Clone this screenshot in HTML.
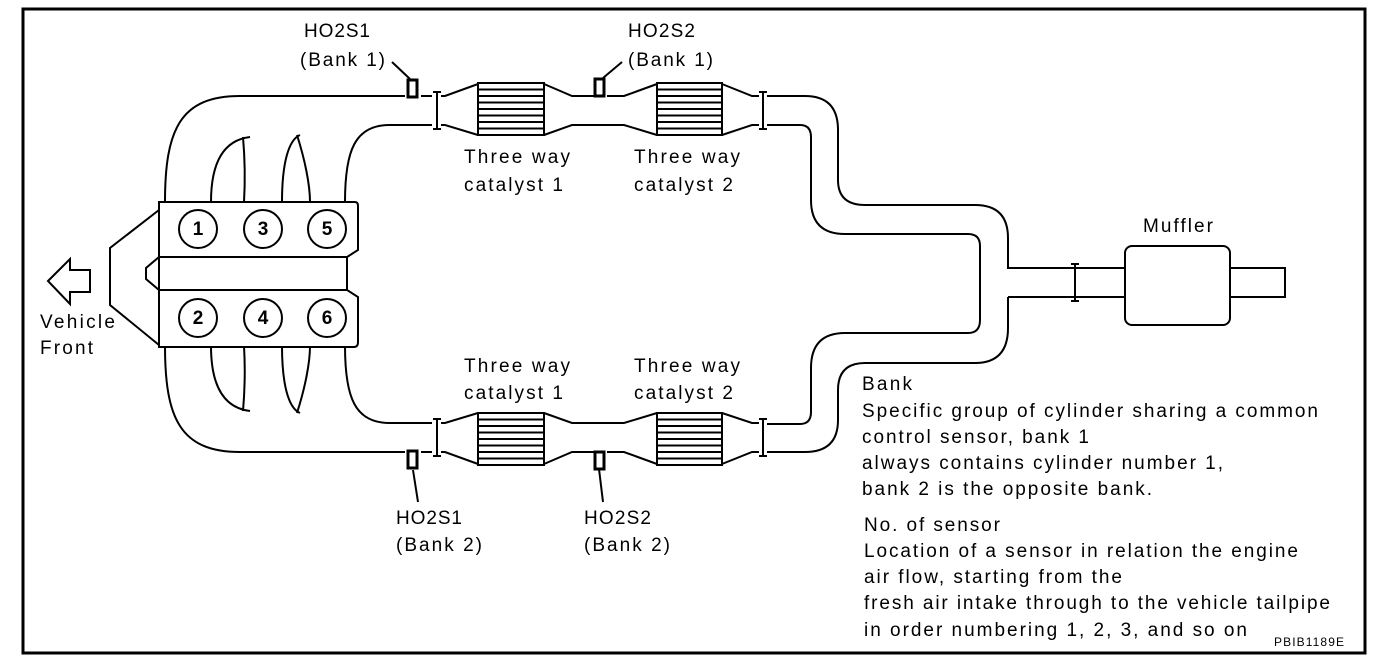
<!DOCTYPE html>
<html><head><meta charset="utf-8"><style>
html,body{margin:0;padding:0;background:#fff}
svg{display:block}
text{font-family:"Liberation Sans",sans-serif;font-size:19px;fill:#000}
</style></head><body>
<svg width="1392" height="666" viewBox="0 0 1392 666" xmlns="http://www.w3.org/2000/svg">
<rect x="23" y="9" width="1342" height="644" fill="none" stroke="#000" stroke-width="3"/>
<defs>
<g id="half" fill="none" stroke="#000" stroke-width="2">
  <path d="M165,202 C165,130 180,96 240,96 L405,96"/>
  <path d="M345,202 C345,150 355,125 390,125 L432,125"/>
  <path d="M421,96 L432,96"/>
  <path d="M211,202 C211,160 225,140 250,137"/>
  <path d="M243,137 C245,160 245,185 244,202"/>
  <path d="M282,202 C282,165 288,140 300,135"/>
  <path d="M297,135 C305,160 310,185 310,202"/>
  <path d="M433,92 L441,92 M437,92 L437,129 M433,129 L441,129"/>
  <path d="M441,96 L445,96 L478,84 M441,125 L445,125 L478,135"/>
  <rect x="478" y="83" width="66" height="52"/>
  <path d="M478,89.5 H544 M478,96 H544 M478,102.5 H544 M478,109 H544 M478,115.5 H544 M478,122 H544 M478,128.5 H544"/>
  <path d="M544,84 L572,96 L594,96 M607,96 L624,96 L657,84 M544,135 L572,125 L624,125 L657,135"/>
  <rect x="657" y="83" width="65" height="52"/>
  <path d="M657,89.5 H722 M657,96 H722 M657,102.5 H722 M657,109 H722 M657,115.5 H722 M657,122 H722 M657,128.5 H722"/>
  <path d="M722,84 L752,96 L759,96 M722,135 L752,125 L759,125"/>
  <path d="M759,92 L767,92 M763,92 L763,129 M759,129 L767,129"/>
  <rect x="408" y="80" width="9" height="17" stroke-width="3"/>
  <rect x="595" y="79" width="9" height="17" stroke-width="3"/>
</g>
</defs>
<use href="#half"/>
<use href="#half" transform="translate(0,548) scale(1,-1)"/>
<g fill="none" stroke="#000" stroke-width="2">
  <path d="M159,202 L355,202 Q358,202 358,206 L358,250 L347,257 L347,290 L358,297 L358,342 Q358,347 354,347 L159,347 Z"/>
  <path d="M159,257 L347,257 M159,290 L347,290"/>
  <path d="M159,257 L146,268 L146,279 L159,290"/>
  <path d="M159,210 L110,248 L110,305 L159,345"/>
  <circle cx="198" cy="229" r="19"/><circle cx="263" cy="229" r="19"/><circle cx="327" cy="229" r="19"/>
  <circle cx="198" cy="318" r="19"/><circle cx="263" cy="318" r="19"/><circle cx="327" cy="318" r="19"/>
  <path d="M48,281 L70,259 L70,270 L90,270 L90,292 L70,292 L70,304 Z"/>
  <path d="M767,96 L805,96 Q838,96 838,130 L838,180 Q838,205 865,205 L975,205 Q1008,205 1008,238 L1008,268 L1125,268"/>
  <path d="M767,125 L800,125 Q811,125 811,137 L811,200 Q811,234 845,234 L968,234 Q980,234 980,246 L980,320 Q980,333 968,333 L845,333 Q811,333 811,368 L811,412 Q811,424 800,424 L767,424"/>
  <path d="M1008,297 L1125,297 M1008,297 L1008,328 Q1008,363 975,363 L865,363 Q838,363 838,390 L838,420 Q838,452 805,452 L767,452"/>
  <path d="M1071,264 L1079,264 M1075,264 L1075,301 M1071,301 L1079,301"/>
  <rect x="1125" y="246" width="105" height="79" rx="7"/>
  <path d="M1230,268 L1285,268 L1285,297 L1230,297"/>
  <path d="M392,62 L410,79"/>
  <path d="M622,62 L603,78"/>
  <path d="M413,470 L418,502"/>
  <path d="M599,469 L603,502"/>
</g>
<g lengthAdjust="spacingAndGlyphs">
<text x="304" y="37" textLength="66">HO2S1</text>
<text x="300" y="66" textLength="85">(Bank 1)</text>
<text x="628" y="37" textLength="67">HO2S2</text>
<text x="628" y="66" textLength="85">(Bank 1)</text>
<text x="464" y="163" textLength="106">Three way</text>
<text x="464" y="191" textLength="99">catalyst 1</text>
<text x="634" y="163" textLength="106">Three way</text>
<text x="634" y="191" textLength="99">catalyst 2</text>
<text x="464" y="372" textLength="106">Three way</text>
<text x="464" y="399" textLength="99">catalyst 1</text>
<text x="634" y="372" textLength="106">Three way</text>
<text x="634" y="399" textLength="99">catalyst 2</text>
<text x="396" y="524" textLength="66">HO2S1</text>
<text x="396" y="551" textLength="86">(Bank 2)</text>
<text x="584" y="524" textLength="67">HO2S2</text>
<text x="584" y="551" textLength="86">(Bank 2)</text>
<text x="1143" y="232" textLength="70">Muffler</text>
<text x="40" y="328" textLength="75">Vehicle</text>
<text x="40" y="354" textLength="53">Front</text>
<text x="862" y="390" textLength="50">Bank</text>
<text x="862" y="417" textLength="456">Specific group of cylinder sharing a common</text>
<text x="862" y="443" textLength="227">control sensor, bank 1</text>
<text x="862" y="469" textLength="361">always contains cylinder number 1,</text>
<text x="862" y="495" textLength="290">bank 2 is the opposite bank.</text>
<text x="864" y="531" textLength="136">No. of sensor</text>
<text x="864" y="557" textLength="434">Location of a sensor in relation the engine</text>
<text x="864" y="583" textLength="258">air flow, starting from the</text>
<text x="864" y="609" textLength="466">fresh air intake through to the vehicle tailpipe</text>
<text x="864" y="636" textLength="383">in order numbering 1, 2, 3, and so on</text>
<text x="1274" y="646" style="font-size:12px" textLength="70">PBIB1189E</text>
</g>
<g style="font-weight:bold;font-size:17px" text-anchor="middle">
<text x="198" y="235">1</text><text x="263" y="235">3</text><text x="327" y="235">5</text>
<text x="198" y="324">2</text><text x="263" y="324">4</text><text x="327" y="324">6</text>
</g>
</svg>
</body></html>
